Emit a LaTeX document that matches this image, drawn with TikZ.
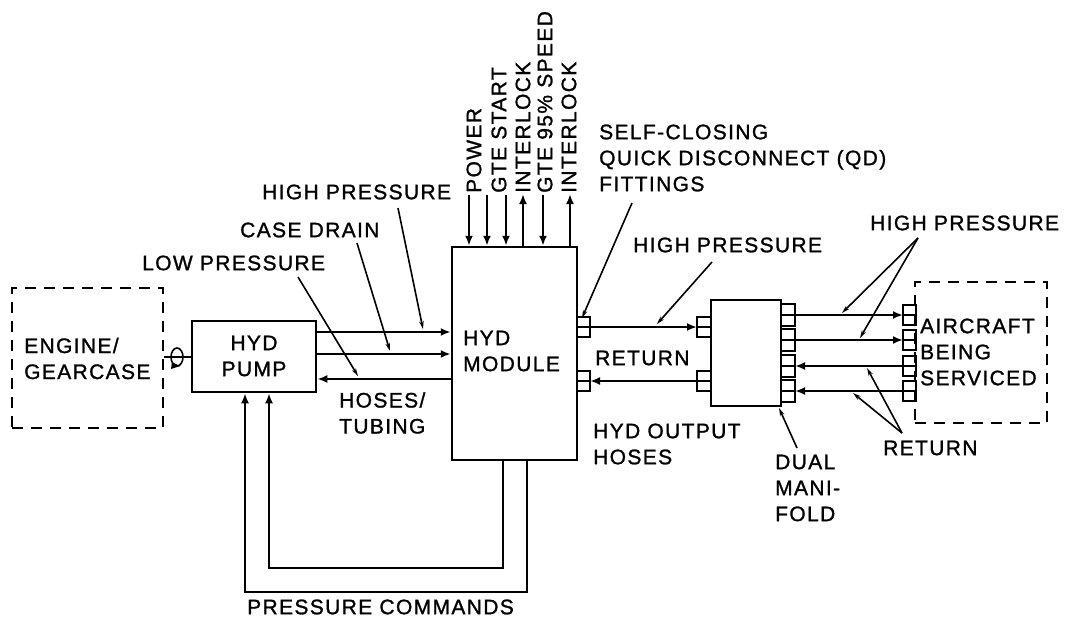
\documentclass[tikz,border=0pt]{standalone}
\usepackage{fontspec}
\setmainfont[LetterSpace=6.5,FakeBold=1.2]{Liberation Sans}
\usetikzlibrary{arrows.meta,calc}
\begin{document}
\begin{tikzpicture}[x=1pt,y=-1pt,
  box/.style={draw, line width=2.5pt, inner sep=0pt},
  dbox/.style={draw, line width=2.1pt, dash pattern=on 11pt off 8pt, inner sep=0pt},
  flow/.style={line width=2.5pt, -{Latex[length=10pt,width=8pt]}},
  plain/.style={line width=2.5pt},
  lead/.style={line width=1.6pt, -{Stealth[length=8pt,width=4.5pt]}},
  lbl/.style={font=\fontsize{21}{26}\selectfont, inner sep=0pt, align=left},
  vlbl/.style={font=\fontsize{21}{26}\selectfont, inner sep=0pt, rotate=90, anchor=west},
  fit/.style={draw, line width=1.9pt}]
\useasboundingbox (0,0) rectangle (1069,618);

% main boxes
\node[dbox, minimum width=151pt, minimum height=140pt] (eng) at (87.5,358) {};
\node[box, minimum width=124pt, minimum height=71pt] (pump) at (254,356.5) {};
\node[box, minimum width=125pt, minimum height=213pt] (mod) at (514.5,353.5) {};
\node[box, minimum width=70pt, minimum height=106pt] (man) at (746,353) {};
\node[dbox, minimum width=132pt, minimum height=141pt] (air) at (981,352.5) {};

% box texts
\node[lbl, anchor=west] (engt) at (24,358.5) {ENGINE/\\GEARCASE};
\node[lbl, align=center] (pumpt) at (254,356) {HYD\\PUMP};
\node[lbl, anchor=west] (modt) at (463,351) {HYD\\MODULE};
\node[lbl, anchor=west] (airt) at (920,352) {AIRCRAFT\\BEING\\SERVICED};

% shaft with rotation symbol
\draw[plain] (eng.east |- 0,357) -- (pump.west |- 0,357);
\draw[line width=1.6pt] (177,357) ellipse [x radius=6pt, y radius=9pt];
\fill (172,362) -- (180,366) -- (171,369) -- cycle;

% fittings
\foreach \y in {327,381}{
  \draw[fit] (577,\y-10) rectangle (590,\y) (577,\y) rectangle (590,\y+10);
  \draw[fit] (697,\y-10) rectangle (711,\y) (697,\y) rectangle (711,\y+10);
}
\foreach \y in {315,340,366,391}{
  \draw[fit] (781,\y-11) rectangle (795,\y) (781,\y) rectangle (795,\y+11);
  \draw[fit] (903,\y-10) rectangle (916,\y) (903,\y) rectangle (916,\y+10);
}

% pump <-> module lines
\coordinate (p1) at (pump.east |- 0,332);
\coordinate (p2) at (pump.east |- 0,354);
\coordinate (p3) at (pump.east |- 0,379);
\draw[flow] (p1) -- (mod.west |- p1);
\draw[flow] (p2) -- (mod.west |- p2);
\draw[flow] (mod.west |- p3) -- (p3);

% top signal lines
\foreach \x in {469,487,506,543}{
  \draw[flow] (\x,195) -- (mod.north -| \x,0);
}
\foreach \x in {523,570}{
  \draw[flow] (mod.north -| \x,0) -- (\x,194);
}
\node[vlbl] (sPow) at (474,193) {POWER};
\node[vlbl] (sGte) at (499,193) {GTE START};
\node[vlbl] (sInt) at (523,193) {INTERLOCK};
\node[vlbl] (sSpd) at (545,193) {GTE 95\% SPEED};
\node[vlbl] (sInt2) at (569,193) {INTERLOCK};

% pressure commands
\draw[flow] (mod.south -| 527,0) -- (527,592) -- (245,592) -- (pump.south -| 245,0);
\draw[flow] (mod.south -| 503,0) -- (503,568) -- (269,568) -- (pump.south -| 269,0);
\node[lbl, anchor=west] (pc) at (247,607) {PRESSURE COMMANDS};

% module -> manifold
\draw[flow] (590,327) -- (697,327);
\draw[flow] (697,381) -- (590,381);

% manifold -> aircraft
\draw[flow] (795,315) -- (903,315);
\draw[flow] (795,340) -- (903,340);
\draw[flow] (903,366) -- (795,366);
\draw[flow] (903,391) -- (795,391);

% labels left
\node[lbl, anchor=west] (hpA) at (262,192) {HIGH PRESSURE};
\node[lbl, anchor=west] (cd) at (240,230) {CASE DRAIN};
\node[lbl, anchor=west] (lp) at (142,263) {LOW PRESSURE};
\node[lbl, anchor=west] (ht) at (339,413) {HOSES/\\TUBING};

\coordinate (hpAs) at (398,208);
\coordinate (cds) at (357,243);
\coordinate (lps) at (298,277);
\draw[lead] (hpAs) -- (423,329);
\draw[lead] (cds) -- (390,351);
\draw[lead] (lps) -- (358,376);

% labels right
\node[lbl, anchor=west] (qd) at (599,158) {SELF-CLOSING\\QUICK DISCONNECT (QD)\\FITTINGS};
\node[lbl, anchor=west] (hpB) at (633,245) {HIGH PRESSURE};
\node[lbl, anchor=west] (retA) at (595,358) {RETURN};
\node[lbl, anchor=west] (hoh) at (593,444) {HYD OUTPUT\\HOSES};
\node[lbl, anchor=west] (dm) at (775,488) {DUAL\\MANI-\\FOLD};
\node[lbl, anchor=west] (hpC) at (870,223) {HIGH PRESSURE};
\node[lbl, anchor=west] (retB) at (883,448) {RETURN};

\coordinate (qds) at (632,203);
\coordinate (hpBs) at (712,262);
\coordinate (dms) at (797,448);
\coordinate (hpCs) at (918,238);
\coordinate (retBs) at (902,433);
\draw[lead] (qds) -- (582,318);
\draw[lead] (hpBs) -- (657,324);
\draw[lead] (dms) -- (779,408);
\draw[lead] (hpCs) -- (842,313);
\draw[lead] (hpCs) -- (860,338);
\draw[lead] (retBs) -- (867,368);
\draw[lead] (retBs) -- (853,393);
\end{tikzpicture}
\end{document}
